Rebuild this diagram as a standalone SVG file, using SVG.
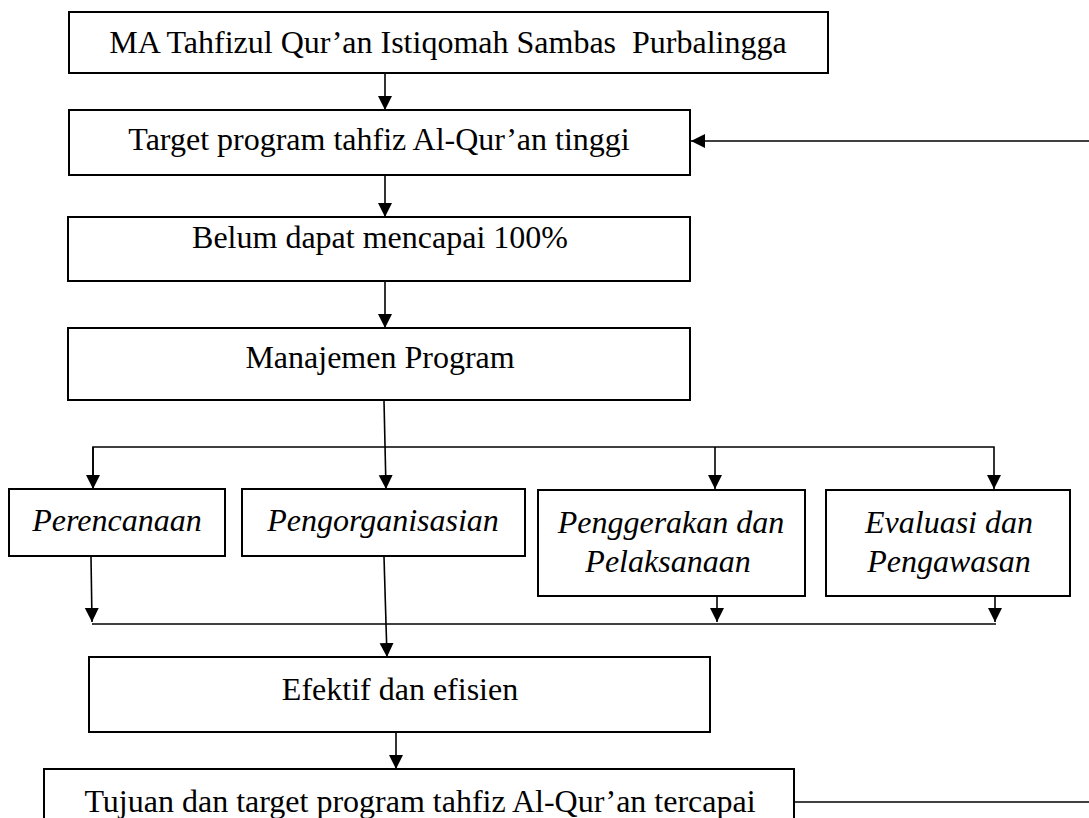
<svg xmlns="http://www.w3.org/2000/svg" width="1089" height="818" viewBox="0 0 1089 818">
<defs>
<style>
.box{fill:#fff;stroke:#000;stroke-width:2}
text{fill:#000;text-anchor:middle}
.i{font-style:italic}
.c{fill:none;stroke:#000;stroke-width:1.6}
</style>
<marker id="ah" markerUnits="userSpaceOnUse" markerWidth="15" markerHeight="15" refX="14" refY="7" orient="auto">
<path d="M0,0 L14,7 L0,14 z" fill="#000"/>
</marker>
</defs>
<rect width="1089" height="818" fill="#fff"/>

<g id="connectors">
<line class="c" x1="385" y1="73" x2="385" y2="110" marker-end="url(#ah)"/>
<line class="c" x1="1089" y1="141" x2="691" y2="141" marker-end="url(#ah)"/>
<line class="c" x1="385" y1="175" x2="385" y2="217" marker-end="url(#ah)"/>
<line class="c" x1="385" y1="281" x2="385" y2="328" marker-end="url(#ah)"/>
<line class="c" x1="384" y1="401" x2="386" y2="489" marker-end="url(#ah)"/>
<polyline class="c" points="93,489 93,447 994,447 994,489" marker-end="url(#ah)"/>
<line class="c" x1="93" y1="447" x2="93" y2="489" marker-end="url(#ah)"/>
<line class="c" x1="715" y1="447" x2="715" y2="489" marker-end="url(#ah)"/>
<line class="c" x1="91" y1="557" x2="92" y2="622" marker-end="url(#ah)"/>
<line class="c" x1="717" y1="597" x2="717" y2="622" marker-end="url(#ah)"/>
<line class="c" x1="995" y1="597" x2="995" y2="622" marker-end="url(#ah)"/>
<line class="c" x1="92" y1="624" x2="996" y2="624"/>
<line class="c" x1="384" y1="557" x2="387" y2="657" marker-end="url(#ah)"/>
<line class="c" x1="396" y1="732" x2="396" y2="769" marker-end="url(#ah)"/>
<line class="c" x1="794" y1="802" x2="1089" y2="802"/>
</g>

<g font-family="'Liberation Serif', 'Times New Roman', 'DejaVu Serif', serif" font-size="32">
<g id="n1">
<rect class="box" x="69" y="12" width="759" height="61"/>
<text x="448" y="53" xml:space="preserve">MA Tahfizul Qur’an Istiqomah Sambas  Purbalingga</text>
</g>
<g id="n2">
<rect class="box" x="69" y="110" width="621" height="65"/>
<text x="379" y="150">Target program tahfiz Al-Qur’an tinggi</text>
</g>
<g id="n3">
<rect class="box" x="68" y="217" width="622" height="64"/>
<text x="380" y="248">Belum dapat mencapai 100%</text>
</g>
<g id="n4">
<rect class="box" x="68" y="328" width="622" height="72"/>
<text x="380" y="368">Manajemen Program</text>
</g>
<g id="n5">
<rect class="box" x="9" y="489" width="216" height="67"/>
<text class="i" x="117" y="531">Perencanaan</text>
</g>
<g id="n6">
<rect class="box" x="242" y="489" width="283" height="67"/>
<text class="i" x="383" y="531">Pengorganisasian</text>
</g>
<g id="n7">
<rect class="box" x="538" y="490" width="267" height="106"/>
<text class="i" x="671" y="533">Penggerakan dan</text>
<text class="i" x="668" y="572">Pelaksanaan</text>
</g>
<g id="n8">
<rect class="box" x="826" y="490" width="244" height="106"/>
<text class="i" x="949" y="533">Evaluasi dan</text>
<text class="i" x="949" y="572">Pengawasan</text>
</g>
<g id="n9">
<rect class="box" x="89" y="657" width="621" height="75"/>
<text x="400" y="700">Efektif dan efisien</text>
</g>
<g id="n10">
<rect class="box" x="44" y="769" width="750" height="60"/>
<text x="420" y="812">Tujuan dan target program tahfiz Al-Qur’an tercapai</text>
</g>
</g>
</svg>
